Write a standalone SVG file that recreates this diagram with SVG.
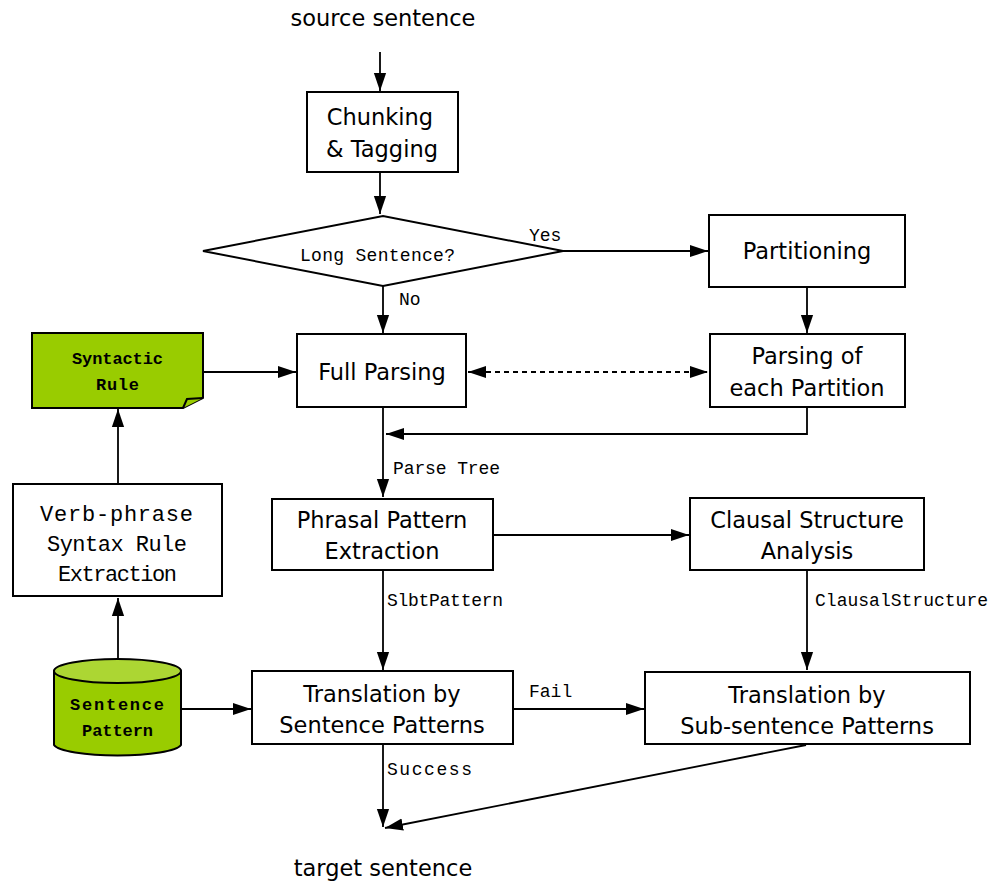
<svg xmlns="http://www.w3.org/2000/svg" width="990" height="883" viewBox="0 0 990 883">
<style>
.box{fill:#fff;stroke:#000;stroke-width:2}
.t{font-family:"DejaVu Sans",Verdana,sans-serif;font-size:22.5px;text-anchor:middle;fill:#000}
.m{font-family:"Liberation Mono","Courier New",monospace;font-size:18px;fill:#000}
.v{font-size:22px}
.bd{font-size:17px;font-weight:bold}
.ln{fill:none;stroke:#000;stroke-width:1.8}
.g{fill:#99cc00;stroke:#000;stroke-width:2}
</style>
<defs>
<marker id="b" viewBox="0 0 10 10" refX="10" refY="5" markerWidth="18" markerHeight="18" markerUnits="userSpaceOnUse" orient="auto-start-reverse"><path d="M0,1.6L10,5L0,8.4z" fill="#000"/></marker>
</defs>
<g id="connectors">
<path class="ln" d="M380,52V91" marker-end="url(#b)"/>
<path class="ln" d="M380,172V214" marker-end="url(#b)"/>
<path class="ln" d="M563,251H708" marker-end="url(#b)"/>
<path class="ln" d="M383,286V333" marker-end="url(#b)"/>
<path class="ln" d="M807,287V333" marker-end="url(#b)"/>
<path class="ln" d="M203,372H296" marker-end="url(#b)"/>
<path class="ln" d="M468,372H708" stroke-dasharray="5,4" marker-start="url(#b)" marker-end="url(#b)"/>
<path class="ln" d="M807,407V434H386" marker-end="url(#b)"/>
<path class="ln" d="M383,407V497" marker-end="url(#b)"/>
<path class="ln" d="M493,535H689" marker-end="url(#b)"/>
<path class="ln" d="M383,570V670" marker-end="url(#b)"/>
<path class="ln" d="M807,570V670" marker-end="url(#b)"/>
<path class="ln" d="M118,484V409" marker-end="url(#b)"/>
<path class="ln" d="M118,660V598" marker-end="url(#b)"/>
<path class="ln" d="M181,709H251" marker-end="url(#b)"/>
<path class="ln" d="M513,709H644" marker-end="url(#b)"/>
<path class="ln" d="M383,744V827" marker-end="url(#b)"/>
<path class="ln" d="M806,745L385,828" marker-end="url(#b)"/>
<text class="m" x="529" y="241">Yes</text>
<text class="m" x="399" y="305">No</text>
<text class="m" x="393" y="474" textLength="107" lengthAdjust="spacing">Parse Tree</text>
<text class="m" x="387" y="606" textLength="116" lengthAdjust="spacing">SlbtPattern</text>
<text class="m" x="815" y="606" textLength="173" lengthAdjust="spacing">ClausalStructure</text>
<text class="m" x="529" y="697">Fail</text>
<text class="m" x="387" y="775" textLength="85" lengthAdjust="spacing">Success</text>
</g>
<text class="t" x="383" y="26">source sentence</text>
<text class="t" x="383" y="876">target sentence</text>
<g id="chunking"><rect class="box" x="307" y="92" width="151" height="80"/><text class="t" x="380" y="125">Chunking</text><text class="t" x="382" y="157">&amp; Tagging</text></g>
<g id="long"><path class="box" d="M203,251L383,216L563,251L383,286Z"/><text class="m" x="300" y="261" textLength="155" lengthAdjust="spacing">Long Sentence?</text></g>
<g id="partitioning"><rect class="box" x="709" y="215" width="196" height="72"/><text class="t" x="807" y="259">Partitioning</text></g>
<g id="fullparsing"><rect class="box" x="297" y="334" width="169" height="73"/><text class="t" x="382" y="380">Full Parsing</text></g>
<g id="partition"><rect class="box" x="710" y="334" width="195" height="73"/><text class="t" x="807" y="364">Parsing of</text><text class="t" x="807" y="396">each Partition</text></g>
<g id="syntactic"><path class="g" d="M32,333H203V398L183,408H32Z"/><path class="g" d="M183,408L187,399L203,398" stroke-width="1.2"/><text class="m bd" x="72" y="364" textLength="91" lengthAdjust="spacing">Syntactic</text><text class="m bd" x="96" y="390" textLength="43" lengthAdjust="spacing">Rule</text></g>
<g id="verbphrase"><rect class="box" x="13" y="484" width="209" height="112"/><text class="m v" x="40" y="521" textLength="153" lengthAdjust="spacing">Verb-phrase</text><text class="m v" x="47" y="551" textLength="140" lengthAdjust="spacing">Syntax Rule</text><text class="m v" x="58" y="581" textLength="119" lengthAdjust="spacing">Extraction</text></g>
<g id="sentencepattern"><path class="g" d="M54,671V745A64,12 0 0 0 181,745V671A64,12 0 0 0 54,671Z"/><ellipse cx="117.5" cy="671" rx="63.5" ry="12" fill="#acd633" stroke="#000" stroke-width="2"/><text class="m bd" x="70" y="710" textLength="94" lengthAdjust="spacing">Sentence</text><text class="m bd" x="82" y="736" textLength="71" lengthAdjust="spacing">Pattern</text></g>
<g id="phrasal"><rect class="box" x="272" y="499" width="221" height="71"/><text class="t" x="382" y="528">Phrasal Pattern</text><text class="t" x="382" y="559">Extraction</text></g>
<g id="clausal"><rect class="box" x="690" y="498" width="234" height="72"/><text class="t" x="807" y="528">Clausal Structure</text><text class="t" x="807" y="559">Analysis</text></g>
<g id="tsp"><rect class="box" x="252" y="671" width="261" height="73"/><text class="t" x="382" y="702">Translation by</text><text class="t" x="382" y="733">Sentence Patterns</text></g>
<g id="tssp"><rect class="box" x="645" y="672" width="325" height="72"/><text class="t" x="807" y="703">Translation by</text><text class="t" x="807" y="734">Sub-sentence Patterns</text></g>
</svg>
